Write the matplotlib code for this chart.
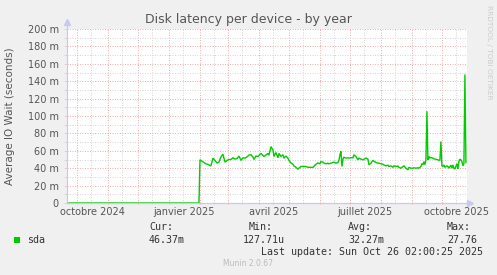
import matplotlib
matplotlib.use('Agg')
import matplotlib.pyplot as plt
import matplotlib.dates as mdates
from matplotlib.patches import Rectangle
import numpy as np

# ---------------- data ----------------
dates = [
    '2024-09-21', '2025-01-31',
    '2025-02-01', '2025-02-03', '2025-02-05', '2025-02-07', '2025-02-09', '2025-02-11', '2025-02-12',
    '2025-02-14', '2025-02-16', '2025-02-18', '2025-02-20', '2025-02-22', '2025-02-24', '2025-02-26',
    '2025-02-28',
    '2025-03-02', '2025-03-04', '2025-03-06', '2025-03-08', '2025-03-10', '2025-03-12', '2025-03-14',
    '2025-03-16', '2025-03-18', '2025-03-20', '2025-03-22', '2025-03-24', '2025-03-26', '2025-03-27',
    '2025-03-29', '2025-03-31',
    '2025-04-03', '2025-04-06', '2025-04-10', '2025-04-11', '2025-04-13', '2025-04-15', '2025-04-16',
    '2025-04-18', '2025-04-20', '2025-04-21', '2025-04-23', '2025-04-25', '2025-04-26', '2025-04-28',
    '2025-04-30',
    '2025-05-01', '2025-05-03', '2025-05-05', '2025-05-06', '2025-05-08', '2025-05-10', '2025-05-11',
    '2025-05-13', '2025-05-15', '2025-05-18', '2025-05-20', '2025-05-23', '2025-05-25', '2025-05-28',
    '2025-05-30',
    '2025-06-01', '2025-06-02', '2025-06-04', '2025-06-05', '2025-06-07', '2025-06-09', '2025-06-10',
    '2025-06-12', '2025-06-14', '2025-06-15', '2025-06-17', '2025-06-19', '2025-06-20', '2025-06-21',
    '2025-06-22', '2025-06-23', '2025-06-24', '2025-06-25', '2025-06-27', '2025-06-29', '2025-06-30',
    '2025-07-02', '2025-07-04', '2025-07-05', '2025-07-07', '2025-07-09', '2025-07-10', '2025-07-12',
    '2025-07-14', '2025-07-15', '2025-07-17', '2025-07-19', '2025-07-20', '2025-07-22', '2025-07-24',
    '2025-07-25', '2025-07-27', '2025-07-29', '2025-07-30',
    '2025-08-01', '2025-08-03', '2025-08-04', '2025-08-06', '2025-08-08', '2025-08-09', '2025-08-11',
    '2025-08-13', '2025-08-14', '2025-08-16', '2025-08-18', '2025-08-19', '2025-08-21', '2025-08-23',
    '2025-08-24', '2025-08-26', '2025-08-28', '2025-08-29', '2025-08-31',
    '2025-09-02', '2025-09-03', '2025-09-05', '2025-09-07', '2025-09-08', '2025-09-10', '2025-09-11',
    '2025-09-12', '2025-09-13', '2025-09-14', '2025-09-15', '2025-09-16', '2025-09-17', '2025-09-18',
    '2025-09-19', '2025-09-20', '2025-09-22', '2025-09-23', '2025-09-25', '2025-09-27', '2025-09-28',
    '2025-09-29', '2025-09-30',
    '2025-10-01', '2025-10-02', '2025-10-03', '2025-10-04', '2025-10-06', '2025-10-07', '2025-10-08',
    '2025-10-10', '2025-10-11', '2025-10-12', '2025-10-13', '2025-10-14', '2025-10-16', '2025-10-17',
    '2025-10-18', '2025-10-19', '2025-10-20', '2025-10-21', '2025-10-22', '2025-10-23', '2025-10-24',
    '2025-10-25',
]
latency_ms = [
    0, 0,
    49.7, 48, 46.5, 45, 44.5, 43, 42.7,
    51.5, 49, 46, 47, 53, 56, 47,
    49,
    50, 50, 52, 50.5, 51, 54, 49,
    52, 51.5, 53, 55, 55.5, 53, 50,
    54, 53.5,
    57, 53.5, 57, 55, 64.8, 61, 53.5,
    58, 52, 57, 53.5, 55.5, 51.5, 54,
    51.5,
    49, 46, 44.5, 42.7, 41, 39, 40,
    42, 42, 42, 41, 41, 41, 44.5,
    46,
    45, 47.7, 47, 46, 45, 45.8, 45,
    45.8, 46.5, 47, 45.8, 46.5, 49, 55.4,
    59.3, 42, 50.4, 52.6, 51.6, 52, 51.6,
    52, 52, 55.4, 53.5, 49.6, 51.6, 50.4,
    49.6, 50.4, 51.6, 50.4, 44, 45.8, 49,
    48, 46.5, 45.8, 45.8,
    45, 44.6, 43.8, 42.7, 43.5, 42, 42.7,
    41, 42.7, 42, 42.5, 41, 40, 42,
    42.7, 40, 38.1, 41, 40,
    40, 40.5, 40, 40.5, 40, 42, 45.3,
    44, 47.6, 44, 49.6, 105.5, 49.6, 53.5,
    51.5, 52.4, 51.5, 50.7, 50.3, 49.6, 49,
    49.6, 70.8,
    42.7, 42, 43.8, 41, 42.7, 42, 40,
    43.5, 40, 43.8, 40, 39, 45.3, 39,
    47.6, 50.4, 49.6, 47.6, 42.7, 45.3, 147.8,
    46.4,
]

x_start = '2024-09-21'
x_end = '2025-10-26 02:00'
y_ticks = [0, 20, 40, 60, 80, 100, 120, 140, 160, 180, 200]
y_tick_labels = ['0', '20 m', '40 m', '60 m', '80 m', '100 m', '120 m', '140 m',
                 '160 m', '180 m', '200 m']
x_label_dates = ['2024-10-16', '2025-01-16', '2025-04-16', '2025-07-16', '2025-10-16']
x_label_texts = ['octobre 2024', 'janvier 2025', 'avril 2025', 'juillet 2025', 'octobre 2025']

title = 'Disk latency per device - by year'
y_title = 'Average IO Wait (seconds)'
series_name = 'sda'
stat_headers = ['Cur:', 'Min:', 'Avg:', 'Max:']
stat_values = ['46.37m', '127.71u', '32.27m', '27.76']
last_update = 'Last update: Sun Oct 26 02:00:25 2025'
footer = 'Munin 2.0.67'
side_text = 'RRDTOOL / TOBI OETIKER'

# ---------------- layout ----------------
W, H = 497, 275
BG = '#F0F0F0'
TEXT = '#555555'
LEG = '#333333'
GREEN = '#00CC00'
MGRID = '#EDB0B0'
NGRID = '#D6D6D6'
AXIS = '#C8C8F0'

fig = plt.figure(figsize=(W / 100, H / 100), dpi=100, facecolor=BG)

def fx(px):
    return px / W

def fy(py):
    return 1 - py / H

left, right, top, bottom = 67, 467, 29, 203
ax = fig.add_axes([fx(left), fy(bottom), fx(right - left), (bottom - top) / H])
ax.set_facecolor('white')
for s in ax.spines.values():
    s.set_visible(False)

d = np.array(dates, dtype='datetime64[D]')
xs, xe = np.datetime64(x_start), np.datetime64(x_end)
ax.set_xlim(xs, xe)
ax.set_ylim(0, 200)

# grids (dotted)
dot = (0, (1, 1.5))
ax.set_yticks(y_ticks)
ax.set_yticks(np.arange(10, 200, 20), minor=True)
ax.xaxis.set_major_locator(mdates.MonthLocator())
ax.xaxis.set_minor_locator(mdates.DayLocator(bymonthday=[15]))
ax.grid(which='minor', color=NGRID, linestyle=dot, linewidth=0.72)
ax.grid(which='major', color=MGRID, linestyle=dot, linewidth=0.72)
ax.set_axisbelow(True)

ax.set_yticklabels(y_tick_labels)
ax.set_xticklabels([])
ax.tick_params(axis='y', which='both', length=2, width=0.7, color=NGRID,
               labelsize=7, labelcolor=TEXT, pad=4)
ax.tick_params(axis='x', which='major', length=2, width=0.7, color=MGRID, direction='inout')
ax.tick_params(axis='x', which='minor', length=2, width=0.7, color=NGRID, direction='inout')

for dstr, txt in zip(x_label_dates, x_label_texts):
    ax.text(np.datetime64(dstr), -0.05, txt, transform=ax.get_xaxis_transform(),
            ha='center', va='center', fontsize=7, color=TEXT)

# data
ax.plot(d, latency_ms, color=GREEN, linewidth=1.0, solid_joinstyle='miter', zorder=3)

# axes lines with arrows
ax.plot([0, 0], [0, 1.035], transform=ax.transAxes, color=AXIS, lw=0.9, clip_on=False, zorder=4)
ax.plot([0, 1.0075], [0, 0], transform=ax.transAxes, color=AXIS, lw=0.9, clip_on=False, zorder=4)
ax.plot([0], [1.04], marker='^', markersize=4, color=AXIS, transform=ax.transAxes,
        clip_on=False, zorder=4)
ax.plot([1.0085], [0], marker='>', markersize=4, color=AXIS, transform=ax.transAxes,
        clip_on=False, zorder=4)

# titles
fig.text(0.5, fy(19), title, ha='center', va='center', fontsize=9, color=TEXT)
fig.text(fx(10), fy(116), y_title, ha='center', va='center', rotation=90,
         fontsize=7.5, color=TEXT)
fig.text(fx(489), fy(5), side_text, ha='center', va='top', rotation=270,
         fontsize=5.3, color='#CCCCCC')

# legend
fig.patches.append(Rectangle((fx(14), fy(243)), fx(6), 6 / H, transform=fig.transFigure,
                             facecolor=GREEN, edgecolor='none'))
mono = 'DejaVu Sans Mono'
fig.text(fx(27), fy(240), series_name, ha='left', va='center', fontsize=7.2,
         family=mono, color=LEG)
head_x = [149, 249, 348, 447]
val_x = [149, 243, 348, 447]
for hx, vx, h, v in zip(head_x, val_x, stat_headers, stat_values):
    fig.text(fx(hx), fy(227), h, ha='left', va='center', fontsize=7.2, family=mono, color=LEG)
    fig.text(fx(vx), fy(240), v, ha='left', va='center', fontsize=7.2, family=mono, color=LEG)
fig.text(fx(483), fy(252), last_update, ha='right', va='center', fontsize=7.2,
         family=mono, color=LEG)
fig.text(fx(248), fy(264), footer, ha='center', va='center', fontsize=5.5, color='#BBBBBB')

fig.savefig('out.png', dpi=100, facecolor=BG)
